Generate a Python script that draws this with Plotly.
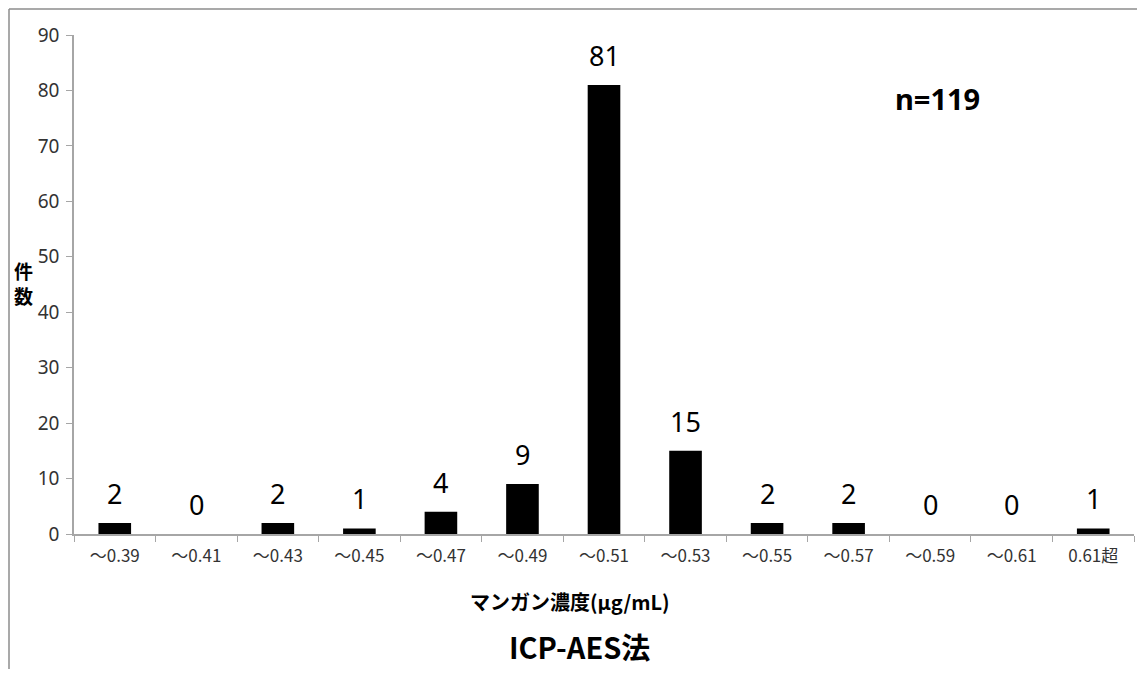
import plotly.graph_objects as go

categories = ["〜0.39", "〜0.41", "〜0.43", "〜0.45", "〜0.47", "〜0.49", "〜0.51",
              "〜0.53", "〜0.55", "〜0.57", "〜0.59", "〜0.61", "0.61超"]
counts = [2, 0, 2, 1, 4, 9, 81, 15, 2, 2, 0, 0, 1]
y_ticks = list(range(0, 91, 10))

# page has an 8px body margin; work in page pixels and convert
OFF = 8
W, H = 1145 - 2 * OFF, 677 - 2 * OFF
PL, PR, PT, PB = 74, 1134, 35, 534.5          # plot area in page pixels
L, R, T, B = PL - OFF, W - (PR - OFF), PT - OFF, H - (PB - OFF)
pw, ph = W - L - R, H - T - B

def px(x):
    return (x - OFF - L) / pw

def py(y):
    return (H - B - (y - OFF)) / ph

FONT = "Noto Sans, Noto Sans CJK JP, sans-serif"
JFONT = "Noto Sans CJK JP, Noto Sans, sans-serif"

fig = go.Figure(go.Bar(
    x=categories, y=counts,
    marker=dict(color="black", line=dict(width=0)),
    cliponaxis=False, width=0.4,
))

label_annotations = [
    dict(x=c, y=v, text=str(v), xref="x", yref="y", showarrow=False,
         xanchor="center", yanchor="bottom", yshift=9,
         font=dict(size=27, color="black", family=FONT))
    for c, v in zip(categories, counts)
]

def note(text, x, y, size, family):
    return dict(text=text, xref="paper", yref="paper", x=px(x), y=py(y),
                xanchor="center", yanchor="middle", showarrow=False,
                font=dict(size=size, color="black", family=family))

fig.update_layout(
    width=W, height=H,
    margin=dict(l=L, r=R, t=T, b=B),
    paper_bgcolor="white", plot_bgcolor="white",
    showlegend=False,
    font=dict(family=FONT, color="#333"),
    xaxis=dict(
        type="category", showline=True, linecolor="#a6a6a6", linewidth=1.5,
        ticks="outside", ticklen=6, tickcolor="#a6a6a6", tickson="boundaries",
        tickfont=dict(size=17, color="#333", family=JFONT), ticklabelstandoff=6,
        showgrid=False, zeroline=False,
    ),
    yaxis=dict(
        range=[0, 90], tickvals=y_ticks, showline=True, linecolor="#a6a6a6", linewidth=1.5,
        ticks="outside", ticklen=6, tickcolor="#a6a6a6", ticklabelstandoff=3,
        tickfont=dict(size=19, color="#333"), showgrid=False, zeroline=False,
    ),
    shapes=[
        dict(type="line", xref="paper", yref="paper", x0=px(OFF + 1), x1=px(1160), y0=py(OFF + 1), y1=py(OFF + 1),
             line=dict(color="#8c8c8c", width=1.5)),
        dict(type="line", xref="paper", yref="paper", x0=px(OFF + 1), x1=px(OFF + 1), y0=py(OFF + 1), y1=py(700),
             line=dict(color="#8c8c8c", width=1.5)),
    ],
    annotations=label_annotations + [
        note("<b>n=119</b>", 937, 99, 29, FONT),
        note("<b>件<br>数</b>", 24, 283, 19, JFONT),
        note("<b>マンガン濃度(μg/mL)</b>", 570, 602, 20, JFONT),
        note("<b>ICP-AES法</b>", 579, 647, 29, JFONT),
    ],
)

fig.write_html("out.html")
